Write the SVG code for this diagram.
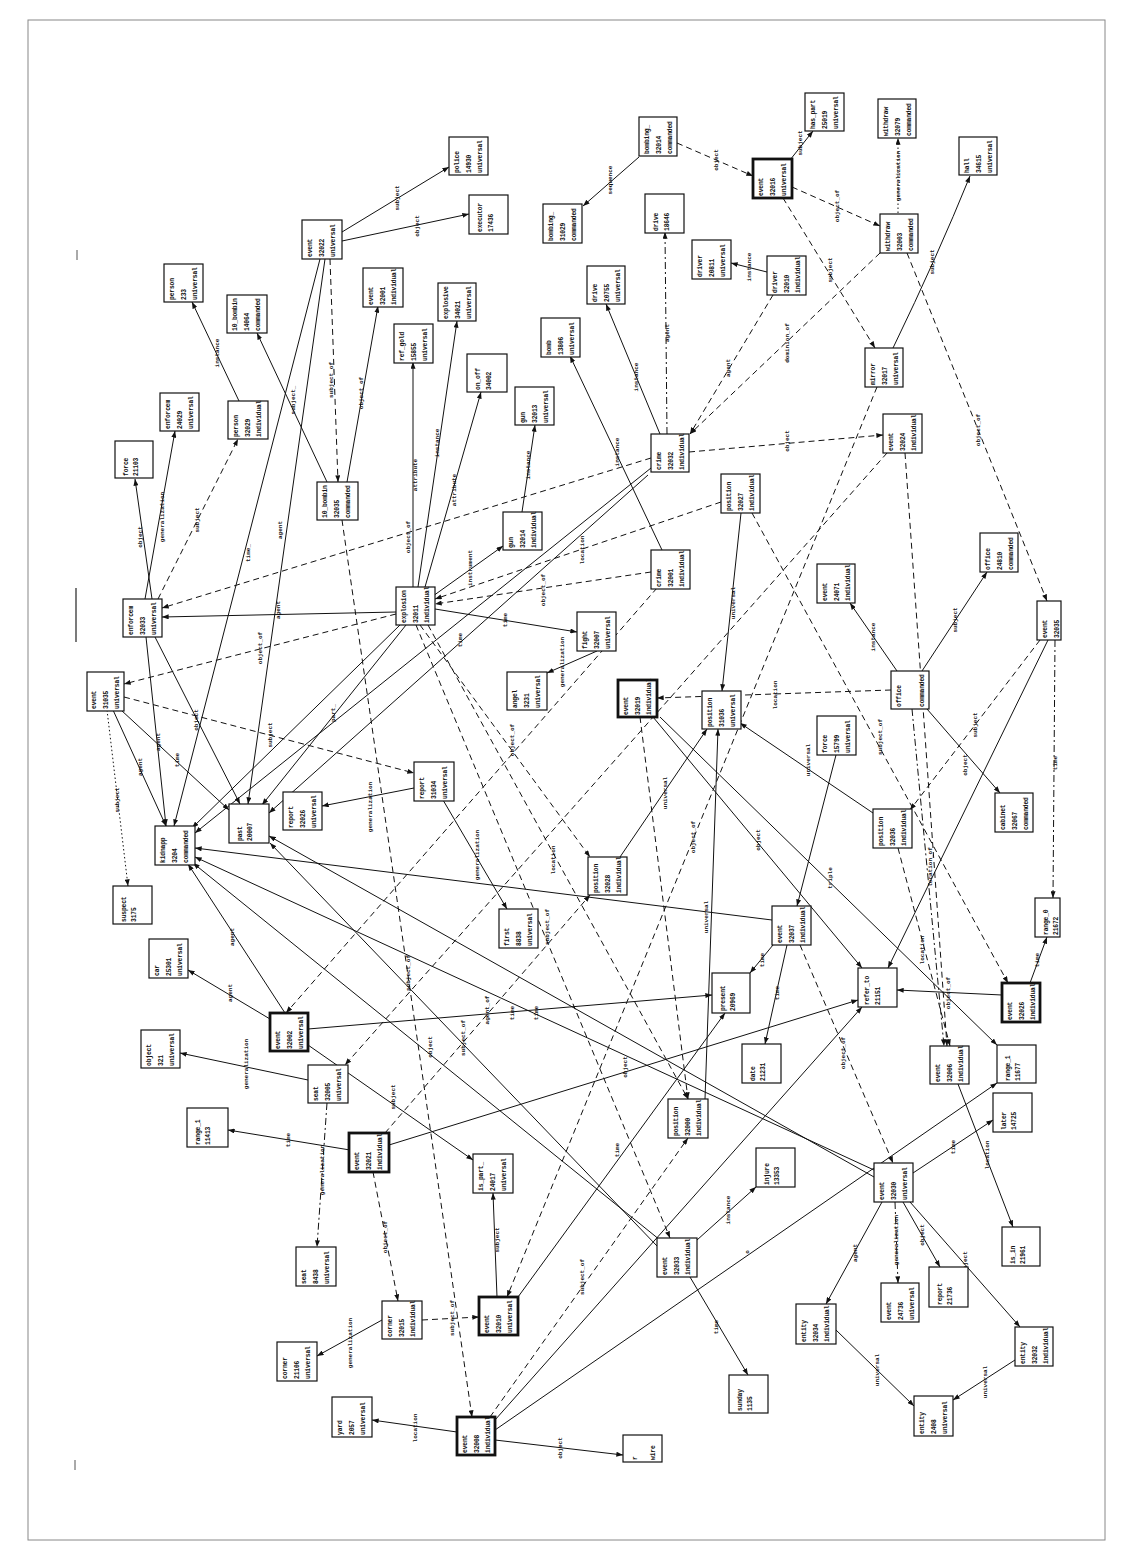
<svg xmlns="http://www.w3.org/2000/svg" width="1133" height="1562" viewBox="0 0 1133 1562">
<defs>
<marker id="a" viewBox="0 0 8 6" refX="8" refY="3" markerWidth="7" markerHeight="5" orient="auto" markerUnits="userSpaceOnUse"><path d="M0,0L8,3L0,6z" fill="#111"/></marker>
</defs>
<style>
rect{fill:#fff;stroke:#111;stroke-width:1.2}
rect.b{stroke-width:2.8}
.n text{font-family:"Liberation Mono",monospace;font-weight:bold;font-size:6.3px;letter-spacing:-0.15px;fill:#111}
.e line,.e path{stroke:#111;stroke-width:1;fill:none;marker-end:url(#a)}
.e .d{stroke-dasharray:6 4}
.e .o{stroke-dasharray:1.5 2.5}
.e .dd{stroke-dasharray:7 3 2 3}
.l text{font-family:"Liberation Mono",monospace;font-weight:bold;font-size:6px;fill:#111;text-anchor:middle}
</style>
<rect x="0" y="0" width="1133" height="1562" style="fill:#fff;stroke:none"/>
<rect x="28" y="20" width="1077" height="1520" style="fill:none;stroke:#888;stroke-width:1"/>
<line x1="76" y1="588" x2="76" y2="642" stroke="#222" stroke-width="1.2"/>
<line x1="77" y1="250" x2="77" y2="260" stroke="#555" stroke-width="1"/>
<line x1="75" y1="1460" x2="75" y2="1470" stroke="#555" stroke-width="1"/>
<g id="connectors" class="e">
<line x1="342" y1="232" x2="449" y2="167"/>
<line x1="342" y1="241" x2="469" y2="214"/>
<line x1="639" y1="157" x2="583" y2="206"/>
<line class="d" x1="677" y1="143" x2="753" y2="176"/>
<line x1="790" y1="160" x2="813" y2="131"/>
<line class="d" x1="792" y1="187" x2="880" y2="226"/>
<line class="o" x1="898" y1="213" x2="898" y2="138"/>
<path d="M893,348 Q938,255 970,176"/>
<line class="d" x1="783" y1="198" x2="875" y2="348"/>
<line class="d" x1="880" y1="253" x2="690" y2="434"/>
<line x1="767" y1="272" x2="731" y2="263"/>
<line class="d" x1="773" y1="295" x2="690" y2="434"/>
<line class="d" x1="907" y1="253" x2="1047" y2="601"/>
<line class="d" x1="877" y1="387" x2="507" y2="1297"/>
<line class="dd" x1="667" y1="434" x2="665" y2="232"/>
<line x1="660" y1="434" x2="606" y2="304"/>
<line x1="662" y1="550" x2="570" y2="356"/>
<line class="d" x1="689" y1="452" x2="883" y2="435"/>
<line x1="320" y1="259" x2="174" y2="826"/>
<line x1="325" y1="259" x2="248" y2="804"/>
<line x1="327" y1="482" x2="257" y2="333"/>
<line x1="347" y1="482" x2="378" y2="306"/>
<line class="d" x1="330" y1="259" x2="338" y2="482"/>
<line class="d" x1="342" y1="520" x2="472" y2="1417"/>
<line x1="239" y1="401" x2="192" y2="302"/>
<line x1="145" y1="599" x2="175" y2="431"/>
<line x1="152" y1="599" x2="135" y2="479"/>
<line class="d" x1="158" y1="599" x2="238" y2="439"/>
<line x1="396" y1="612" x2="162" y2="617"/>
<line class="d" x1="651" y1="458" x2="162" y2="608"/>
<line class="d" x1="396" y1="614" x2="124" y2="684"/>
<line class="d" x1="124" y1="697" x2="414" y2="773"/>
<line class="o" x1="107" y1="710" x2="128" y2="886"/>
<line x1="113" y1="710" x2="166" y2="826"/>
<line x1="121" y1="710" x2="229" y2="810"/>
<line x1="146" y1="637" x2="166" y2="826"/>
<line x1="155" y1="637" x2="240" y2="804"/>
<line x1="400" y1="625" x2="192" y2="828"/>
<line x1="406" y1="625" x2="262" y2="805"/>
<line x1="651" y1="468" x2="195" y2="833"/>
<line x1="648" y1="475" x2="269" y2="813"/>
<line x1="414" y1="788" x2="322" y2="806"/>
<line x1="443" y1="800" x2="507" y2="909"/>
<line x1="522" y1="512" x2="535" y2="425"/>
<line x1="433" y1="596" x2="503" y2="546"/>
<line x1="435" y1="609" x2="577" y2="632"/>
<line x1="413" y1="587" x2="413" y2="362"/>
<line x1="418" y1="587" x2="457" y2="321"/>
<line x1="425" y1="587" x2="481" y2="392"/>
<line class="d" x1="651" y1="572" x2="435" y2="604"/>
<line class="d" x1="721" y1="502" x2="435" y2="599"/>
<line x1="597" y1="651" x2="547" y2="673"/>
<line class="d" x1="657" y1="588" x2="286" y2="1013"/>
<line x1="741" y1="513" x2="722" y2="691"/>
<line class="d" x1="752" y1="513" x2="1008" y2="983"/>
<line class="d" x1="891" y1="690" x2="657" y2="698"/>
<line x1="653" y1="717" x2="862" y2="968"/>
<line x1="660" y1="717" x2="997" y2="1045"/>
<line class="d" x1="640" y1="717" x2="688" y2="1099"/>
<line x1="620" y1="857" x2="707" y2="729"/>
<line x1="873" y1="813" x2="740" y2="723"/>
<line x1="705" y1="1099" x2="718" y2="729"/>
<line x1="897" y1="671" x2="850" y2="603"/>
<line x1="922" y1="671" x2="987" y2="572"/>
<line x1="927" y1="709" x2="1000" y2="793"/>
<line class="dd" x1="912" y1="709" x2="944" y2="1046"/>
<line class="d" x1="898" y1="848" x2="950" y2="1046"/>
<line class="d" x1="1040" y1="640" x2="910" y2="810"/>
<line x1="1048" y1="640" x2="888" y2="968"/>
<line class="dd" x1="1055" y1="640" x2="1053" y2="898"/>
<line x1="1002" y1="995" x2="897" y2="990"/>
<line x1="1030" y1="983" x2="1047" y2="937"/>
<line x1="836" y1="755" x2="797" y2="906"/>
<line class="d" x1="887" y1="453" x2="345" y2="1065"/>
<line class="d" x1="905" y1="453" x2="947" y2="1046"/>
<line x1="772" y1="920" x2="195" y2="848"/>
<line x1="874" y1="1170" x2="195" y2="857"/>
<line x1="874" y1="1177" x2="269" y2="836"/>
<line x1="660" y1="1240" x2="193" y2="863"/>
<line x1="657" y1="1246" x2="270" y2="843"/>
<line x1="285" y1="1013" x2="188" y2="864"/>
<line x1="270" y1="1019" x2="188" y2="970"/>
<line x1="308" y1="1029" x2="712" y2="995"/>
<line x1="308" y1="1045" x2="473" y2="1160"/>
<line x1="787" y1="945" x2="765" y2="1044"/>
<line x1="773" y1="945" x2="750" y2="973"/>
<line class="d" x1="800" y1="945" x2="893" y2="1163"/>
<line x1="308" y1="1080" x2="180" y2="1053"/>
<line class="dd" x1="327" y1="1103" x2="317" y2="1247"/>
<line x1="350" y1="1150" x2="228" y2="1130"/>
<line x1="389" y1="1145" x2="858" y2="1000"/>
<line class="d" x1="373" y1="1172" x2="398" y2="1301"/>
<line class="d" x1="385" y1="1133" x2="590" y2="895"/>
<line x1="382" y1="1320" x2="317" y2="1356"/>
<line class="d" x1="422" y1="1320" x2="479" y2="1317"/>
<line x1="497" y1="1297" x2="493" y2="1193"/>
<line x1="518" y1="1297" x2="725" y2="1013"/>
<line class="d" x1="490" y1="1417" x2="688" y2="1138"/>
<line x1="495" y1="1420" x2="862" y2="1007"/>
<line x1="495" y1="1430" x2="997" y2="1083"/>
<line x1="457" y1="1432" x2="372" y2="1420"/>
<line x1="495" y1="1440" x2="623" y2="1455"/>
<line x1="690" y1="1277" x2="748" y2="1375"/>
<line x1="697" y1="1240" x2="756" y2="1187"/>
<line x1="913" y1="1173" x2="993" y2="1120"/>
<line x1="882" y1="1202" x2="826" y2="1304"/>
<line class="dd" x1="895" y1="1202" x2="898" y2="1283"/>
<line x1="903" y1="1202" x2="940" y2="1267"/>
<line x1="910" y1="1202" x2="1020" y2="1327"/>
<line x1="836" y1="1330" x2="914" y2="1406"/>
<line x1="1015" y1="1360" x2="953" y2="1400"/>
<line x1="958" y1="1084" x2="1013" y2="1227"/>
<line class="d" x1="420" y1="625" x2="590" y2="857"/>
<line class="d" x1="428" y1="625" x2="688" y2="1099"/>
<line class="d" x1="416" y1="625" x2="670" y2="1238"/>
</g>
<g id="labels" class="l">
<text transform="translate(399,198) rotate(-90)">subject</text>
<text transform="translate(419,226) rotate(-90)">object</text>
<text transform="translate(612,180) rotate(-90)">sequence</text>
<text transform="translate(718,160) rotate(-90)">object</text>
<text transform="translate(802,143) rotate(-90)">subject</text>
<text transform="translate(839,206) rotate(-90)">object_of</text>
<text transform="translate(900,176) rotate(-90)">generalization</text>
<text transform="translate(934,262) rotate(-90)">subject</text>
<text transform="translate(832,270) rotate(-90)">subject</text>
<text transform="translate(789,343) rotate(-90)">dominion_of</text>
<text transform="translate(751,267) rotate(-90)">instance</text>
<text transform="translate(730,368) rotate(-90)">agent</text>
<text transform="translate(980,430) rotate(-90)">object_of</text>
<text transform="translate(695,837) rotate(-90)">object_of</text>
<text transform="translate(669,333) rotate(-90)">agent</text>
<text transform="translate(638,377) rotate(-90)">instance</text>
<text transform="translate(619,452) rotate(-90)">instance</text>
<text transform="translate(789,441) rotate(-90)">object</text>
<text transform="translate(250,553) rotate(-90)">time_</text>
<text transform="translate(282,530) rotate(-90)">agent</text>
<text transform="translate(295,400) rotate(-90)">subject_</text>
<text transform="translate(363,393) rotate(-90)">object_of</text>
<text transform="translate(333,380) rotate(-90)">subject_of</text>
<text transform="translate(410,973) rotate(-90)">subject_of</text>
<text transform="translate(219,353) rotate(-90)">instance</text>
<text transform="translate(164,517) rotate(-90)">generalization</text>
<text transform="translate(142,537) rotate(-90)">object</text>
<text transform="translate(199,520) rotate(-90)">subject</text>
<text transform="translate(280,610) rotate(-90)">agent</text>
<text transform="translate(410,537) rotate(-90)">object_of</text>
<text transform="translate(262,648) rotate(-90)">object_of</text>
<text transform="translate(272,735) rotate(-90)">subject</text>
<text transform="translate(119,800) rotate(-90)">subject</text>
<text transform="translate(142,767) rotate(-90)">agent</text>
<text transform="translate(179,760) rotate(-90)">time</text>
<text transform="translate(160,742) rotate(-90)">agent</text>
<text transform="translate(198,720) rotate(-90)">object</text>
<text transform="translate(335,713) rotate(-90)">part_</text>
<text transform="translate(462,640) rotate(-90)">time</text>
<text transform="translate(372,807) rotate(-90)">generalization</text>
<text transform="translate(479,855) rotate(-90)">generalization</text>
<text transform="translate(530,465) rotate(-90)">instance</text>
<text transform="translate(472,568) rotate(-90)">instrument</text>
<text transform="translate(507,620) rotate(-90)">time</text>
<text transform="translate(417,475) rotate(-90)">attribute</text>
<text transform="translate(439,443) rotate(-90)">instance</text>
<text transform="translate(456,490) rotate(-90)">attribute</text>
<text transform="translate(545,590) rotate(-90)">object_of</text>
<text transform="translate(584,550) rotate(-90)">location</text>
<text transform="translate(564,662) rotate(-90)">generalization</text>
<text transform="translate(514,740) rotate(-90)">object_of</text>
<text transform="translate(735,603) rotate(-90)">universal</text>
<text transform="translate(882,737) rotate(-90)">subject_of</text>
<text transform="translate(777,695) rotate(-90)">location</text>
<text transform="translate(760,840) rotate(-90)">object</text>
<text transform="translate(832,878) rotate(-90)">triple</text>
<text transform="translate(667,793) rotate(-90)">universal</text>
<text transform="translate(810,760) rotate(-90)">universal</text>
<text transform="translate(708,917) rotate(-90)">universal</text>
<text transform="translate(875,637) rotate(-90)">instance</text>
<text transform="translate(957,620) rotate(-90)">subject</text>
<text transform="translate(967,765) rotate(-90)">object</text>
<text transform="translate(924,950) rotate(-90)">location</text>
<text transform="translate(977,725) rotate(-90)">subject</text>
<text transform="translate(932,867) rotate(-90)">location_of</text>
<text transform="translate(1057,763) rotate(-90)">time</text>
<text transform="translate(950,993) rotate(-90)">object_of</text>
<text transform="translate(1039,960) rotate(-90)">time</text>
<text transform="translate(234,937) rotate(-90)">agent</text>
<text transform="translate(232,993) rotate(-90)">agent</text>
<text transform="translate(514,1013) rotate(-90)">time</text>
<text transform="translate(538,1013) rotate(-90)">time</text>
<text transform="translate(395,1097) rotate(-90)">subject</text>
<text transform="translate(779,993) rotate(-90)">time</text>
<text transform="translate(764,960) rotate(-90)">time</text>
<text transform="translate(845,1053) rotate(-90)">object_of</text>
<text transform="translate(248,1064) rotate(-90)">generalization</text>
<text transform="translate(324,1170) rotate(-90)">generalization</text>
<text transform="translate(290,1140) rotate(-90)">time</text>
<text transform="translate(627,1067) rotate(-90)">object</text>
<text transform="translate(387,1237) rotate(-90)">object_of</text>
<text transform="translate(489,1010) rotate(-90)">agent_of</text>
<text transform="translate(352,1343) rotate(-90)">generalization</text>
<text transform="translate(454,1318) rotate(-90)">subject_of</text>
<text transform="translate(499,1240) rotate(-90)">subject</text>
<text transform="translate(619,1150) rotate(-90)">time</text>
<text transform="translate(584,1277) rotate(-90)">subject_of</text>
<text transform="translate(749,1252) rotate(-90)">o</text>
<text transform="translate(417,1428) rotate(-90)">location</text>
<text transform="translate(562,1448) rotate(-90)">object</text>
<text transform="translate(718,1327) rotate(-90)">time</text>
<text transform="translate(730,1210) rotate(-90)">instance</text>
<text transform="translate(955,1147) rotate(-90)">time</text>
<text transform="translate(857,1253) rotate(-90)">agent</text>
<text transform="translate(898,1240) rotate(-90)">generalization</text>
<text transform="translate(924,1235) rotate(-90)">object</text>
<text transform="translate(967,1262) rotate(-90)">object</text>
<text transform="translate(879,1370) rotate(-90)">universal</text>
<text transform="translate(987,1382) rotate(-90)">universal</text>
<text transform="translate(989,1155) rotate(-90)">location</text>
<text transform="translate(555,860) rotate(-90)">location</text>
<text transform="translate(549,927) rotate(-90)">subject_of</text>
<text transform="translate(432,1047) rotate(-90)">object</text>
<text transform="translate(465,1038) rotate(-90)">subject_of</text>
</g>
<g class="n">
<g id="n-event32022"><rect x="302" y="220" width="40" height="39"/><text transform="translate(312,257) rotate(-90)">event</text><text transform="translate(323.5,257) rotate(-90)">32022</text><text transform="translate(335,257) rotate(-90)">universal</text></g>
<g id="n-police"><rect x="449" y="137" width="39" height="38"/><text transform="translate(459,173) rotate(-90)">police</text><text transform="translate(470.5,173) rotate(-90)">14930</text><text transform="translate(482,173) rotate(-90)">universal</text></g>
<g id="n-executor"><rect x="469" y="195" width="39" height="39"/><text transform="translate(482,232) rotate(-90)">executor</text><text transform="translate(493,232) rotate(-90)">17436</text></g>
<g id="n-person233"><rect x="164" y="264" width="39" height="38"/><text transform="translate(174,300) rotate(-90)">person</text><text transform="translate(185.5,300) rotate(-90)">233</text><text transform="translate(197,300) rotate(-90)">universal</text></g>
<g id="n-bombin14064"><rect x="227" y="295" width="40" height="38"/><text transform="translate(237,331) rotate(-90)">10_bombin</text><text transform="translate(248.5,331) rotate(-90)">14064</text><text transform="translate(260,331) rotate(-90)">commanded</text></g>
<g id="n-event32001"><rect x="363" y="268" width="40" height="39"/><text transform="translate(373,305) rotate(-90)">event</text><text transform="translate(384.5,305) rotate(-90)">32001</text><text transform="translate(396,305) rotate(-90)">individual</text></g>
<g id="n-refgold"><rect x="394" y="324" width="39" height="39"/><text transform="translate(404,361) rotate(-90)">ref_gold</text><text transform="translate(415.5,361) rotate(-90)">15855</text><text transform="translate(427,361) rotate(-90)">universal</text></g>
<g id="n-explosive"><rect x="438" y="283" width="38" height="38"/><text transform="translate(448,319) rotate(-90)">explosive</text><text transform="translate(459.5,319) rotate(-90)">34021</text><text transform="translate(471,319) rotate(-90)">universal</text></g>
<g id="n-onoff"><rect x="467" y="354" width="40" height="38"/><text transform="translate(480,390) rotate(-90)">on_off</text><text transform="translate(491,390) rotate(-90)">34002</text></g>
<g id="n-gun32013"><rect x="515" y="387" width="39" height="38"/><text transform="translate(525,423) rotate(-90)">gun</text><text transform="translate(536.5,423) rotate(-90)">32013</text><text transform="translate(548,423) rotate(-90)">universal</text></g>
<g id="n-bomb13806"><rect x="541" y="318" width="39" height="39"/><text transform="translate(551,355) rotate(-90)">bomb</text><text transform="translate(562.5,355) rotate(-90)">13806</text><text transform="translate(574,355) rotate(-90)">universal</text></g>
<g id="n-drive20755"><rect x="587" y="266" width="38" height="38"/><text transform="translate(597,302) rotate(-90)">drive</text><text transform="translate(608.5,302) rotate(-90)">20755</text><text transform="translate(620,302) rotate(-90)">universal</text></g>
<g id="n-bombing31029"><rect x="543" y="204" width="39" height="39"/><text transform="translate(553,241) rotate(-90)">bombing_</text><text transform="translate(564.5,241) rotate(-90)">31029</text><text transform="translate(576,241) rotate(-90)">commanded</text></g>
<g id="n-bombing32014"><rect x="639" y="117" width="38" height="39"/><text transform="translate(649,154) rotate(-90)">bombing_</text><text transform="translate(660.5,154) rotate(-90)">32014</text><text transform="translate(672,154) rotate(-90)">commanded</text></g>
<g id="n-drive18646"><rect x="645" y="194" width="39" height="39"/><text transform="translate(658,231) rotate(-90)">drive</text><text transform="translate(669,231) rotate(-90)">18646</text></g>
<g id="n-driver20811"><rect x="692" y="240" width="39" height="39"/><text transform="translate(702,277) rotate(-90)">driver</text><text transform="translate(713.5,277) rotate(-90)">20811</text><text transform="translate(725,277) rotate(-90)">universal</text></g>
<g id="n-driver32010"><rect x="767" y="256" width="39" height="39"/><text transform="translate(777,293) rotate(-90)">driver</text><text transform="translate(788.5,293) rotate(-90)">32010</text><text transform="translate(800,293) rotate(-90)">individual</text></g>
<g id="n-event32016"><rect class="b" x="753" y="159" width="39" height="39"/><text transform="translate(763,196) rotate(-90)">event</text><text transform="translate(774.5,196) rotate(-90)">32016</text><text transform="translate(786,196) rotate(-90)">universal</text></g>
<g id="n-haspart"><rect x="805" y="93" width="39" height="38"/><text transform="translate(815,129) rotate(-90)">has_part</text><text transform="translate(826.5,129) rotate(-90)">25019</text><text transform="translate(838,129) rotate(-90)">universal</text></g>
<g id="n-withdraw32079"><rect x="878" y="99" width="38" height="39"/><text transform="translate(888,136) rotate(-90)">withdraw</text><text transform="translate(899.5,136) rotate(-90)">32079</text><text transform="translate(911,136) rotate(-90)">commanded</text></g>
<g id="n-withdraw32003"><rect x="880" y="214" width="38" height="39"/><text transform="translate(890,251) rotate(-90)">withdraw</text><text transform="translate(901.5,251) rotate(-90)">32003</text><text transform="translate(913,251) rotate(-90)">commanded</text></g>
<g id="n-hall"><rect x="959" y="137" width="38" height="38"/><text transform="translate(969,173) rotate(-90)">hall</text><text transform="translate(980.5,173) rotate(-90)">34615</text><text transform="translate(992,173) rotate(-90)">universal</text></g>
<g id="n-mirror"><rect x="865" y="348" width="38" height="39"/><text transform="translate(875,385) rotate(-90)">mirror</text><text transform="translate(886.5,385) rotate(-90)">32017</text><text transform="translate(898,385) rotate(-90)">universal</text></g>
<g id="n-event32024"><rect x="883" y="414" width="39" height="39"/><text transform="translate(893,451) rotate(-90)">event</text><text transform="translate(904.5,451) rotate(-90)">32024</text><text transform="translate(916,451) rotate(-90)">individual</text></g>
<g id="n-crime32032"><rect x="651" y="434" width="38" height="38"/><text transform="translate(661,470) rotate(-90)">crime</text><text transform="translate(672.5,470) rotate(-90)">32032</text><text transform="translate(684,470) rotate(-90)">individual</text></g>
<g id="n-position32027"><rect x="721" y="474" width="39" height="39"/><text transform="translate(731,511) rotate(-90)">position</text><text transform="translate(742.5,511) rotate(-90)">32027</text><text transform="translate(754,511) rotate(-90)">individual</text></g>
<g id="n-explosion"><rect x="396" y="587" width="39" height="38"/><text transform="translate(406,623) rotate(-90)">explosion</text><text transform="translate(417.5,623) rotate(-90)">32011</text><text transform="translate(429,623) rotate(-90)">individual</text></g>
<g id="n-enforcem32033"><rect x="123" y="599" width="39" height="38"/><text transform="translate(133,635) rotate(-90)">enforcem</text><text transform="translate(144.5,635) rotate(-90)">32033</text><text transform="translate(156,635) rotate(-90)">universal</text></g>
<g id="n-event31035"><rect x="87" y="672" width="37" height="39"/><text transform="translate(96,709) rotate(-90)">event</text><text transform="translate(107.5,709) rotate(-90)">31035</text><text transform="translate(119,709) rotate(-90)">universal</text></g>
<g id="n-force21103"><rect x="115" y="441" width="38" height="37"/><text transform="translate(128,476) rotate(-90)">force</text><text transform="translate(138,476) rotate(-90)">21103</text></g>
<g id="n-enforcem24029"><rect x="160" y="393" width="39" height="38"/><text transform="translate(170,429) rotate(-90)">enforcem</text><text transform="translate(181.5,429) rotate(-90)">24029</text><text transform="translate(193,429) rotate(-90)">universal</text></g>
<g id="n-person32029"><rect x="228" y="401" width="40" height="38"/><text transform="translate(238,437) rotate(-90)">person</text><text transform="translate(249.5,437) rotate(-90)">32029</text><text transform="translate(261,437) rotate(-90)">individual</text></g>
<g id="n-bombin32035"><rect x="317" y="482" width="41" height="38"/><text transform="translate(327,518) rotate(-90)">10_bombin</text><text transform="translate(338.5,518) rotate(-90)">32035</text><text transform="translate(350,518) rotate(-90)">commanded</text></g>
<g id="n-gun32014"><rect x="503" y="512" width="39" height="38"/><text transform="translate(513,548) rotate(-90)">gun</text><text transform="translate(524.5,548) rotate(-90)">32014</text><text transform="translate(536,548) rotate(-90)">individual</text></g>
<g id="n-crime32001"><rect x="651" y="550" width="39" height="39"/><text transform="translate(661,587) rotate(-90)">crime</text><text transform="translate(672.5,587) rotate(-90)">32001</text><text transform="translate(684,587) rotate(-90)">individual</text></g>
<g id="n-fight32007"><rect x="577" y="612" width="39" height="39"/><text transform="translate(587,649) rotate(-90)">fight</text><text transform="translate(598.5,649) rotate(-90)">32007</text><text transform="translate(610,649) rotate(-90)">universal</text></g>
<g id="n-angel3231"><rect x="507" y="672" width="40" height="38"/><text transform="translate(517,708) rotate(-90)">angel</text><text transform="translate(528.5,708) rotate(-90)">3231</text><text transform="translate(540,708) rotate(-90)">universal</text></g>
<g id="n-event32019"><rect class="b" x="618" y="680" width="39" height="37"/><text transform="translate(628,715) rotate(-90)">event</text><text transform="translate(639.5,715) rotate(-90)">32019</text><text transform="translate(651,715) rotate(-90)">individual</text></g>
<g id="n-position31036"><rect x="702" y="691" width="39" height="38"/><text transform="translate(712,727) rotate(-90)">position</text><text transform="translate(723.5,727) rotate(-90)">31036</text><text transform="translate(735,727) rotate(-90)">universal</text></g>
<g id="n-event24071"><rect x="817" y="564" width="38" height="39"/><text transform="translate(827,601) rotate(-90)">event</text><text transform="translate(838.5,601) rotate(-90)">24071</text><text transform="translate(850,601) rotate(-90)">individual</text></g>
<g id="n-office24810"><rect x="980" y="533" width="38" height="39"/><text transform="translate(990,570) rotate(-90)">office</text><text transform="translate(1001.5,570) rotate(-90)">24810</text><text transform="translate(1013,570) rotate(-90)">commanded</text></g>
<g id="n-office"><rect x="891" y="671" width="38" height="38"/><text transform="translate(901,707) rotate(-90)">office</text><text transform="translate(924,707) rotate(-90)">commanded</text></g>
<g id="n-event32035"><rect x="1037" y="601" width="24" height="39"/><text transform="translate(1047,638) rotate(-90)">event</text><text transform="translate(1058.5,638) rotate(-90)">32035</text></g>
<g id="n-force15799"><rect x="817" y="716" width="39" height="39"/><text transform="translate(827,753) rotate(-90)">force</text><text transform="translate(838.5,753) rotate(-90)">15799</text><text transform="translate(850,753) rotate(-90)">universal</text></g>
<g id="n-report31034"><rect x="414" y="762" width="40" height="39"/><text transform="translate(424,799) rotate(-90)">report</text><text transform="translate(435.5,799) rotate(-90)">31034</text><text transform="translate(447,799) rotate(-90)">universal</text></g>
<g id="n-report32026"><rect x="283" y="792" width="39" height="38"/><text transform="translate(293,828) rotate(-90)">report</text><text transform="translate(304.5,828) rotate(-90)">32026</text><text transform="translate(316,828) rotate(-90)">universal</text></g>
<g id="n-past"><rect x="229" y="804" width="40" height="39"/><text transform="translate(242,841) rotate(-90)">past</text><text transform="translate(252,841) rotate(-90)">20007</text></g>
<g id="n-kidnapp"><rect x="155" y="826" width="40" height="39"/><text transform="translate(165,863) rotate(-90)">kidnapp</text><text transform="translate(176.5,863) rotate(-90)">3204</text><text transform="translate(188,863) rotate(-90)">commanded</text></g>
<g id="n-suspect"><rect x="113" y="886" width="39" height="38"/><text transform="translate(126,922) rotate(-90)">suspect</text><text transform="translate(136,922) rotate(-90)">3175</text></g>
<g id="n-car"><rect x="149" y="939" width="39" height="39"/><text transform="translate(159,976) rotate(-90)">car</text><text transform="translate(170.5,976) rotate(-90)">25301</text><text transform="translate(182,976) rotate(-90)">universal</text></g>
<g id="n-event32002"><rect class="b" x="270" y="1013" width="38" height="38"/><text transform="translate(280,1049) rotate(-90)">event</text><text transform="translate(291.5,1049) rotate(-90)">32002</text><text transform="translate(303,1049) rotate(-90)">universal</text></g>
<g id="n-object321"><rect x="141" y="1030" width="39" height="38"/><text transform="translate(151,1066) rotate(-90)">object</text><text transform="translate(162.5,1066) rotate(-90)">321</text><text transform="translate(174,1066) rotate(-90)">universal</text></g>
<g id="n-seat32005"><rect x="308" y="1065" width="40" height="38"/><text transform="translate(318,1101) rotate(-90)">seat</text><text transform="translate(329.5,1101) rotate(-90)">32005</text><text transform="translate(341,1101) rotate(-90)">universal</text></g>
<g id="n-range11413"><rect x="187" y="1108" width="41" height="39"/><text transform="translate(200,1145) rotate(-90)">range_1</text><text transform="translate(210,1145) rotate(-90)">11413</text></g>
<g id="n-event32021"><rect class="b" x="349" y="1133" width="40" height="39"/><text transform="translate(359,1170) rotate(-90)">event</text><text transform="translate(370.5,1170) rotate(-90)">32021</text><text transform="translate(382,1170) rotate(-90)">individual</text></g>
<g id="n-seat8438"><rect x="296" y="1247" width="40" height="39"/><text transform="translate(306,1284) rotate(-90)">seat</text><text transform="translate(317.5,1284) rotate(-90)">8438</text><text transform="translate(329,1284) rotate(-90)">universal</text></g>
<g id="n-corner32015"><rect x="382" y="1301" width="40" height="38"/><text transform="translate(392,1337) rotate(-90)">corner</text><text transform="translate(403.5,1337) rotate(-90)">32015</text><text transform="translate(415,1337) rotate(-90)">individual</text></g>
<g id="n-corner21106"><rect x="277" y="1342" width="40" height="39"/><text transform="translate(287,1379) rotate(-90)">corner</text><text transform="translate(298.5,1379) rotate(-90)">21106</text><text transform="translate(310,1379) rotate(-90)">universal</text></g>
<g id="n-yard"><rect x="332" y="1397" width="40" height="40"/><text transform="translate(342,1435) rotate(-90)">yard</text><text transform="translate(353.5,1435) rotate(-90)">2057</text><text transform="translate(365,1435) rotate(-90)">universal</text></g>
<g id="n-event32008"><rect class="b" x="457" y="1417" width="38" height="38"/><text transform="translate(467,1453) rotate(-90)">event</text><text transform="translate(478.5,1453) rotate(-90)">32008</text><text transform="translate(490,1453) rotate(-90)">individual</text></g>
<g id="n-wire"><rect x="623" y="1435" width="39" height="27"/><text transform="translate(637,1460) rotate(-90)">r</text><text transform="translate(655,1460) rotate(-90)">wire</text></g>
<g id="n-event32010"><rect class="b" x="479" y="1297" width="39" height="38"/><text transform="translate(489,1333) rotate(-90)">event</text><text transform="translate(500.5,1333) rotate(-90)">32010</text><text transform="translate(512,1333) rotate(-90)">universal</text></g>
<g id="n-ispart"><rect x="473" y="1154" width="40" height="39"/><text transform="translate(483,1191) rotate(-90)">is_part_</text><text transform="translate(494.5,1191) rotate(-90)">24017</text><text transform="translate(506,1191) rotate(-90)">universal</text></g>
<g id="n-position32000"><rect x="668" y="1099" width="40" height="39"/><text transform="translate(678,1136) rotate(-90)">position</text><text transform="translate(689.5,1136) rotate(-90)">32000</text><text transform="translate(701,1136) rotate(-90)">individual</text></g>
<g id="n-event32033"><rect x="657" y="1238" width="40" height="39"/><text transform="translate(667,1275) rotate(-90)">event</text><text transform="translate(678.5,1275) rotate(-90)">32033</text><text transform="translate(690,1275) rotate(-90)">individual</text></g>
<g id="n-sunday"><rect x="729" y="1375" width="39" height="38"/><text transform="translate(742,1411) rotate(-90)">sunday</text><text transform="translate(752,1411) rotate(-90)">1135</text></g>
<g id="n-injure"><rect x="756" y="1148" width="39" height="39"/><text transform="translate(769,1185) rotate(-90)">injure</text><text transform="translate(779,1185) rotate(-90)">13353</text></g>
<g id="n-event32030"><rect x="874" y="1163" width="39" height="39"/><text transform="translate(884,1200) rotate(-90)">event</text><text transform="translate(895.5,1200) rotate(-90)">32030</text><text transform="translate(907,1200) rotate(-90)">universal</text></g>
<g id="n-later"><rect x="993" y="1093" width="39" height="39"/><text transform="translate(1006,1130) rotate(-90)">later</text><text transform="translate(1016,1130) rotate(-90)">14725</text></g>
<g id="n-isin"><rect x="1002" y="1227" width="38" height="39"/><text transform="translate(1015,1264) rotate(-90)">is_in</text><text transform="translate(1025,1264) rotate(-90)">21961</text></g>
<g id="n-event24736"><rect x="881" y="1283" width="38" height="39"/><text transform="translate(891,1320) rotate(-90)">event</text><text transform="translate(902.5,1320) rotate(-90)">24736</text><text transform="translate(914,1320) rotate(-90)">universal</text></g>
<g id="n-report21736"><rect x="929" y="1267" width="39" height="40"/><text transform="translate(942,1305) rotate(-90)">report</text><text transform="translate(952,1305) rotate(-90)">21736</text></g>
<g id="n-entity32034"><rect x="796" y="1304" width="40" height="40"/><text transform="translate(806,1342) rotate(-90)">entity</text><text transform="translate(817.5,1342) rotate(-90)">32034</text><text transform="translate(829,1342) rotate(-90)">individual</text></g>
<g id="n-entity32032"><rect x="1015" y="1327" width="38" height="39"/><text transform="translate(1025,1364) rotate(-90)">entity</text><text transform="translate(1036.5,1364) rotate(-90)">32032</text><text transform="translate(1048,1364) rotate(-90)">individual</text></g>
<g id="n-entity2408"><rect x="914" y="1396" width="39" height="40"/><text transform="translate(924,1434) rotate(-90)">entity</text><text transform="translate(935.5,1434) rotate(-90)">2408</text><text transform="translate(947,1434) rotate(-90)">universal</text></g>
<g id="n-present"><rect x="712" y="973" width="38" height="40"/><text transform="translate(725,1011) rotate(-90)">present</text><text transform="translate(735,1011) rotate(-90)">20969</text></g>
<g id="n-first"><rect x="499" y="909" width="39" height="39"/><text transform="translate(509,946) rotate(-90)">first</text><text transform="translate(520.5,946) rotate(-90)">8838</text><text transform="translate(532,946) rotate(-90)">universal</text></g>
<g id="n-position32028"><rect x="588" y="857" width="39" height="38"/><text transform="translate(598,893) rotate(-90)">position</text><text transform="translate(609.5,893) rotate(-90)">32028</text><text transform="translate(621,893) rotate(-90)">individual</text></g>
<g id="n-event32037"><rect x="772" y="906" width="39" height="39"/><text transform="translate(782,943) rotate(-90)">event</text><text transform="translate(793.5,943) rotate(-90)">32037</text><text transform="translate(805,943) rotate(-90)">individual</text></g>
<g id="n-date"><rect x="742" y="1044" width="39" height="39"/><text transform="translate(755,1081) rotate(-90)">date</text><text transform="translate(765,1081) rotate(-90)">21231</text></g>
<g id="n-referto"><rect x="858" y="968" width="39" height="39"/><text transform="translate(869,1005) rotate(-90)">refer_to</text><text transform="translate(880,1005) rotate(-90)">21151</text></g>
<g id="n-position32036"><rect x="873" y="809" width="39" height="39"/><text transform="translate(883,846) rotate(-90)">position</text><text transform="translate(894.5,846) rotate(-90)">32036</text><text transform="translate(906,846) rotate(-90)">individual</text></g>
<g id="n-cabinet"><rect x="995" y="793" width="38" height="39"/><text transform="translate(1005,830) rotate(-90)">cabinet</text><text transform="translate(1016.5,830) rotate(-90)">32067</text><text transform="translate(1028,830) rotate(-90)">commanded</text></g>
<g id="n-range0"><rect x="1035" y="898" width="25" height="39"/><text transform="translate(1048,935) rotate(-90)">range_0</text><text transform="translate(1058,935) rotate(-90)">21672</text></g>
<g id="n-event32026"><rect class="b" x="1002" y="983" width="38" height="39"/><text transform="translate(1012,1020) rotate(-90)">event</text><text transform="translate(1023.5,1020) rotate(-90)">32026</text><text transform="translate(1035,1020) rotate(-90)">individual</text></g>
<g id="n-event32006"><rect x="930" y="1046" width="39" height="38"/><text transform="translate(940,1082) rotate(-90)">event</text><text transform="translate(951.5,1082) rotate(-90)">32006</text><text transform="translate(963,1082) rotate(-90)">individual</text></g>
<g id="n-range11677"><rect x="997" y="1045" width="39" height="38"/><text transform="translate(1010,1081) rotate(-90)">range_1</text><text transform="translate(1020,1081) rotate(-90)">11677</text></g>
</g>
</svg>
